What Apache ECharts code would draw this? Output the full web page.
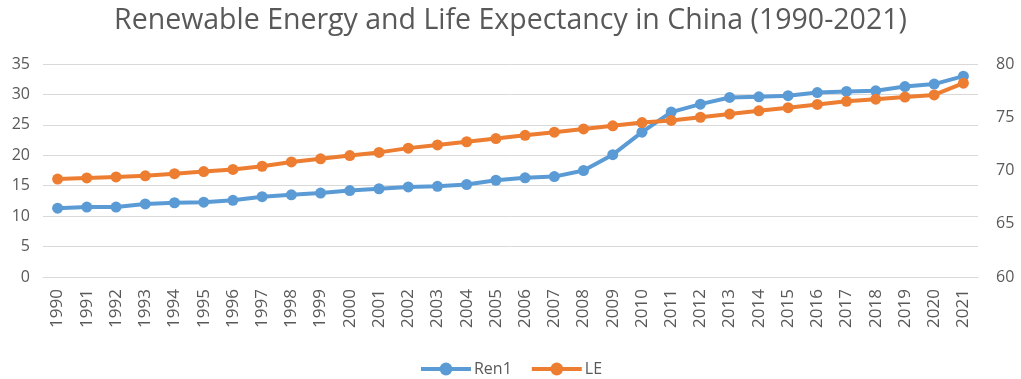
<!DOCTYPE html>
<html><head><meta charset="utf-8">
<script src="https://cdn.jsdelivr.net/npm/echarts@6/dist/echarts.min.js"></script>
<style>html,body{margin:0;padding:0;background:#fff}#c{width:1021px;height:379px}</style>
</head><body><div id="c"></div>
<script>
const years = ['1990','1991','1992','1993','1994','1995','1996','1997','1998','1999','2000','2001','2002','2003','2004','2005','2006','2007','2008','2009','2010','2011','2012','2013','2014','2015','2016','2017','2018','2019','2020','2021'];
const ren1 = [11.3,11.5,11.5,12.0,12.2,12.3,12.6,13.2,13.5,13.8,14.2,14.5,14.8,14.9,15.2,15.9,16.3,16.5,17.5,20.1,23.8,27.1,28.4,29.5,29.6,29.8,30.3,30.5,30.6,31.3,31.7,33.0];
const le = [69.2,69.3,69.4,69.5,69.7,69.9,70.1,70.4,70.8,71.1,71.4,71.7,72.1,72.4,72.7,73.0,73.3,73.6,73.9,74.2,74.5,74.7,75.0,75.3,75.6,75.9,76.2,76.5,76.7,76.9,77.1,78.2];
const leftTicks = {min:0, max:35, interval:5};
const rightTicks = {min:60, max:80, interval:5};
const ff = '"Open Sans", Lato, sans-serif';
const chart = echarts.init(document.getElementById('c'));
chart.setOption({
  animation:false,
  title:{text:'Renewable Energy and Life Expectancy in China (1990-2021)', left:'center', top:1,
    textStyle:{fontFamily:ff, fontSize:28.5, fontWeight:'normal', color:'#595959'}},
  legend:{bottom:-3, left:'center', itemWidth:50, itemHeight:16, itemGap:18,
    lineStyle:{width:4},
    textStyle:{fontFamily:ff, fontSize:16, color:'#595959', padding:[0,0,0,-2]},
    data:['Ren1','LE']},
  grid:{left:43, right:43, top:64, bottom:102},
  xAxis:{type:'category', data:years, boundaryGap:true,
    axisLine:{lineStyle:{color:'#d9d9d9'}}, axisTick:{show:false},
    axisLabel:{rotate:90, fontFamily:ff, fontSize:17, color:'#595959', margin:12, interval:0}},
  yAxis:[
    {type:'value', min:leftTicks.min, max:leftTicks.max, interval:leftTicks.interval, position:'left',
      axisLine:{show:false}, axisTick:{show:false},
      axisLabel:{fontFamily:ff, fontSize:16, color:'#595959', margin:13},
      splitLine:{lineStyle:{color:'#d9d9d9', width:1}}},
    {type:'value', min:rightTicks.min, max:rightTicks.max, interval:rightTicks.interval, position:'right',
      axisLine:{show:false}, axisTick:{show:false},
      axisLabel:{fontFamily:ff, fontSize:16, color:'#595959', margin:18},
      splitLine:{show:false}}
  ],
  series:[
    {name:'Ren1', type:'line', data:ren1, yAxisIndex:0, symbol:'circle', symbolSize:11,
      lineStyle:{color:'#5B9BD5', width:4}, itemStyle:{color:'#5B9BD5'}},
    {name:'LE', type:'line', data:le, yAxisIndex:1, symbol:'circle', symbolSize:11,
      lineStyle:{color:'#ED7D31', width:4}, itemStyle:{color:'#ED7D31'}}
  ]
});
</script></body></html>
